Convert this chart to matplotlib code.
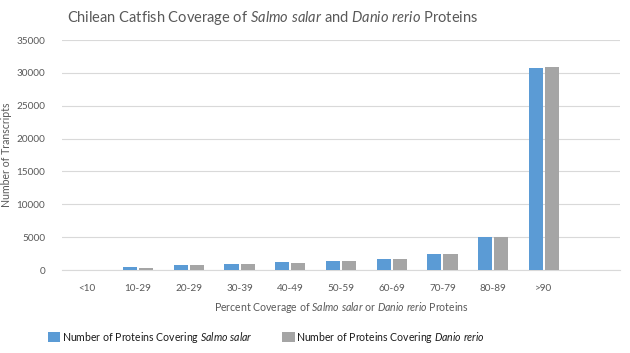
import matplotlib
matplotlib.use("Agg")
import matplotlib.pyplot as plt
import numpy as np

categories = ["<10", "10-29", "20-29", "30-39", "40-49", "50-59", "60-69", "70-79", "80-89", ">90", ""]
salmo = [30, 400, 700, 850, 1200, 1300, 1700, 2500, 5000, 30800, 0]
danio = [30, 380, 700, 850, 1050, 1300, 1700, 2500, 5050, 30900, 0]
yticks = [0, 5000, 10000, 15000, 20000, 25000, 30000, 35000]

plt.rcParams['font.family'] = ['Lato', 'DejaVu Sans']
plt.rcParams['mathtext.fontset'] = 'custom'
plt.rcParams['mathtext.rm'] = 'Lato'
plt.rcParams['mathtext.it'] = 'Lato:italic'
plt.rcParams['mathtext.bf'] = 'Lato:bold'

fig = plt.figure(figsize=(6.3, 3.53), dpi=100)
ax = fig.add_axes([62/630, 1-270/353, 558/630, 230/353])

x = np.arange(len(categories))
w = 0.28
gap = 0.04
ax.bar(x - (w + gap)/2, salmo, w, color="#5B9BD5", label="Number of Proteins Covering $\\it{Salmo\\ salar}$", zorder=3)
ax.bar(x + (w + gap)/2, danio, w, color="#A5A5A5", label="Number of Proteins Covering $\\it{Danio\\ rerio}$", zorder=3)

ax.set_xlim(-0.5, len(categories) - 0.5)
ax.set_ylim(0, 35000)
ax.set_yticks(yticks)
ax.set_xticks(x)
ax.set_xticklabels(categories)
ax.yaxis.grid(True, color="#D9D9D9", linewidth=0.8, zorder=0)
for s in ["top", "right", "left"]:
    ax.spines[s].set_visible(False)
ax.spines["bottom"].set_color("#D9D9D9")
ax.tick_params(axis="both", length=0, labelsize=7.2, colors="#595959")
ax.tick_params(axis="y", pad=12)
ax.tick_params(axis="x", pad=10)

ax.set_ylabel("Number of Transcripts", fontsize=7.6, color="#595959", labelpad=3)
ax.set_xlabel("Percent Coverage of $\\it{Salmo\\ salar}$ or $\\it{Danio\\ rerio}$ Proteins", fontsize=7.6, color="#595959", labelpad=5)

fig.text(0.432, 0.948, "Chilean Catfish Coverage of $\\it{Salmo\\ salar}$ and $\\it{Danio\\ rerio}$ Proteins",
         ha="center", va="center", fontsize=10.5, color="#595959")

leg = fig.legend(loc="center", bbox_to_anchor=(0.423, 0.045), ncol=2, frameon=False,
                 fontsize=7.6, handlelength=1.2, handleheight=1.1, columnspacing=2.8, handletextpad=0.15)
for t in leg.get_texts():
    t.set_color("#1a1a1a")

fig.savefig("out.png", dpi=100)
